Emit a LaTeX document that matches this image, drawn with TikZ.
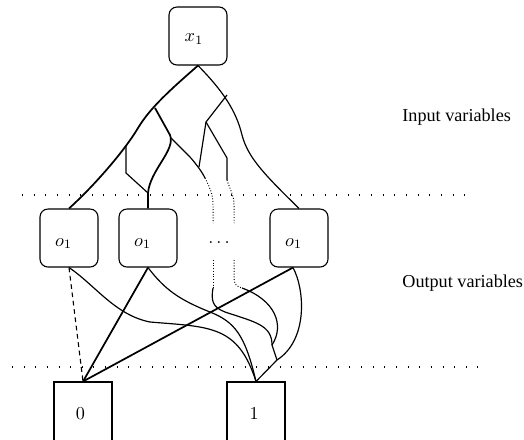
\documentclass[tikz,border=0pt]{standalone}
\usepackage{fontspec}
\setmainfont{Liberation Serif}
\begin{document}
\begin{tikzpicture}[x=0.55pt,y=-0.55pt,
  rbox/.style={draw,rounded corners=4.4pt,minimum width=31.9pt,minimum height=31.9pt,inner sep=0pt,line width=0.6pt},
  sbox/.style={draw,minimum width=31.9pt,minimum height=33pt,inner sep=0pt,line width=0.6pt},
  wire/.style={line width=0.65pt},
  boldwire/.style={line width=0.95pt},
  fdot/.style={line width=0.55pt,dash pattern=on 0.5pt off 1pt},
  dashwire/.style={line width=0.6pt,dash pattern=on 2.6pt off 2pt},
  sep/.style={line width=0.9pt,dash pattern=on 0.5pt off 5.9pt},
  side/.style={anchor=west,inner sep=0pt}
]
\useasboundingbox (0,0) rectangle (524,439);

% boxes
\node[rbox,label={[xshift=-2.2pt,yshift=-1.6pt]center:$x_1$}] (x1) at (198,36) {};
\node[rbox,label={[xshift=-3pt,yshift=-3pt]center:$o_1$}] (oa) at (69,238) {};
\node[rbox,label={[xshift=-3pt,yshift=-3pt]center:$o_1$}] (ob) at (148,238) {};
\node[rbox,label={[xshift=-3pt,yshift=-3pt]center:$o_1$}] (oc) at (299,238) {};
\node[inner sep=0pt] (dd) at (219,243) {$\dots$};
\node[sbox,label={[xshift=-1.4pt,yshift=-1.1pt]center:$0$}] (zero) at (83,412) {};
\node[sbox,label={[xshift=-1pt,yshift=-1.1pt]center:$1$}] (one) at (256,412) {};

% side texts
\node[side] (tin) at (402,117) {Input variables};
\node[side] (tout) at (402,283) {Output variables};

% separators
\coordinate (s1a) at (22,195); \coordinate (s1b) at (475,195);
\coordinate (s2a) at (12,367); \coordinate (s2b) at (478,367);
\draw[sep] (s1a) -- (s1b);
\draw[sep] (s2a) -- (s2b);

% junction points
\coordinate (ja) at (155,108);
\coordinate (jb) at (170,135);
\coordinate (jc) at (148,193);
\coordinate (jd) at (126,145);
\coordinate (je) at (171,138);
\coordinate (jf) at (205,178);
\coordinate (jg) at (227,95);
\coordinate (jh) at (206,122);
\coordinate (ji) at (199,167);
\coordinate (jj) at (227,180);
\coordinate (jk) at (213,223);
\coordinate (jl) at (234,223);
\coordinate (jm) at (213,260);
\coordinate (jn) at (213,288);
\coordinate (jo) at (234,260);
\coordinate (jp) at (242,288);
\coordinate (J1) at (272,345);
\coordinate (J2) at (277,360);
\coordinate (cb) at ([xshift=-3.3pt]oc.south);

% input part
\draw[boldwire] (x1.south) .. controls (170,90) and (150,108) .. (138,128) .. controls (125,150) and (95,185) .. (oa.north);
\draw[boldwire] (ja) -- (jb) .. controls (176,150) and (150,170) .. (jc) -- (ob.north);
\draw[wire] (jd) -- (126,173) -- (jc);
\draw[wire] (je) -- (190,157) .. controls (197,165) and (202,172) .. (jf);
\draw[fdot] (jf) .. controls (211,190) and (213,195) .. (213,205) -- (jk);
\draw[wire] (x1.south) .. controls (222,90) and (236,110) .. (242,135) .. controls (248,158) and (265,175) .. (oc.north);
\draw[wire] (jg) -- (jh) -- (ji);
\draw[wire] (jh) -- (227,158) -- (jj);
\draw[fdot] (jj) .. controls (230,190) and (234,195) .. (234,205) -- (jl);

% output part
\draw[fdot] (jm) -- (jn);
\draw[wire] (jn) .. controls (211,300) and (212,307) .. (225,312) .. controls (255,322) and (272,325) .. (J1) -- (J2);
\draw[fdot] (jo) -- (234,278) .. controls (234,284) and (237,287) .. (jp);
\draw[wire] (jp) .. controls (275,300) and (285,325) .. (J1);
\draw[wire] (cb) .. controls (305,290) and (308,340) .. (J2) -- (one.north);
\draw[wire] (oa.south) .. controls (95,285) and (115,315) .. (150,322) .. controls (210,327) and (238,325) .. (one.north);
\draw[wire] (ob.south) .. controls (165,290) and (180,300) .. (210,312) .. controls (235,322) and (245,335) .. (one.north);
\draw[dashwire] (oa.south) -- (zero.north);
\draw[boldwire] (ob.south) -- (zero.north);
\draw[boldwire] (cb) -- (zero.north);
\end{tikzpicture}
\end{document}
